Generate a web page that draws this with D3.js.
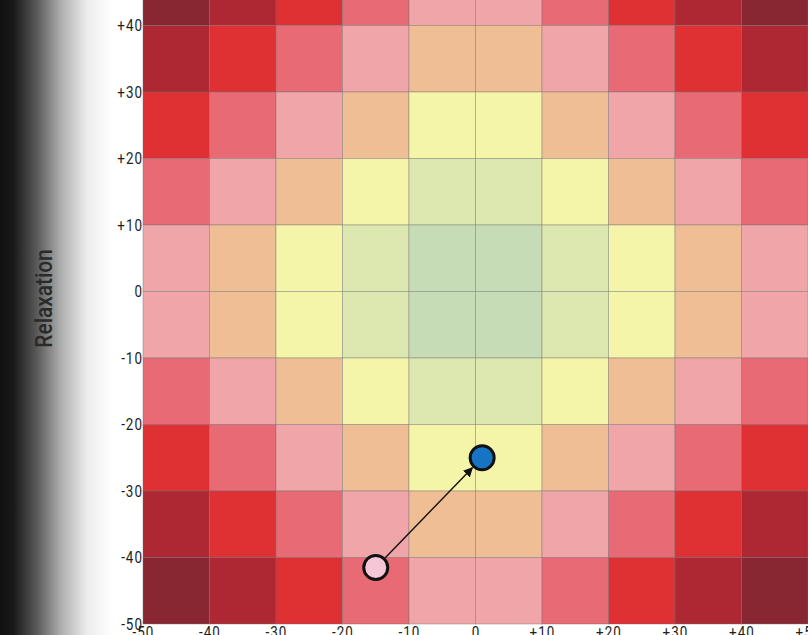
<!DOCTYPE html>
<html>
<head>
<meta charset="utf-8">
<script src="https://cdn.jsdelivr.net/npm/d3@7"></script>
<style>
  html, body { margin: 0; padding: 0; background: #fff; overflow: hidden; }
  text { font-family: Roboto, "Liberation Sans", sans-serif; }
</style>
</head>
<body>
<div id="chart"></div>
<script>
// cell lower-left corners (value units)
const colStarts = [-50, -40, -30, -20, -10, 0, 10, 20, 30, 40];
const rowStarts = [40, 30, 20, 10, 0, -10, -20, -30, -40, -50];

// colour level of each cell, rows top -> bottom, cols left -> right
const levels = [
  [8, 7, 6, 5, 4, 4, 5, 6, 7, 8],
  [7, 6, 5, 4, 3, 3, 4, 5, 6, 7],
  [6, 5, 4, 3, 2, 2, 3, 4, 5, 6],
  [5, 4, 3, 2, 1, 1, 2, 3, 4, 5],
  [4, 3, 2, 1, 0, 0, 1, 2, 3, 4],
  [4, 3, 2, 1, 0, 0, 1, 2, 3, 4],
  [5, 4, 3, 2, 1, 1, 2, 3, 4, 5],
  [6, 5, 4, 3, 2, 2, 3, 4, 5, 6],
  [7, 6, 5, 4, 3, 3, 4, 5, 6, 7],
  [8, 7, 6, 5, 4, 4, 5, 6, 7, 8]
];

const palette = ["#c6dcb6", "#dde8b0", "#f5f5aa", "#efbe94", "#f0a5a8",
                 "#e86a74", "#df3034", "#ad2832", "#882732"];

const xTicks = [-50, -40, -30, -20, -10, 0, 10, 20, 30, 40, 50];
const yTicks = [-50, -40, -30, -20, -10, 0, 10, 20, 30, 40];

const moveFrom = [-15, -41.5];
const moveTo = [1, -25];

const W = 808, H = 635;

const x = d3.scaleLinear().domain([-50, 50]).range([143, 808]);
const y = d3.scaleLinear().domain([-50, 50]).range([624, -41]);

const fmt = d => d > 0 ? "+" + d : String(d);

const svg = d3.select("#chart").append("svg")
  .attr("width", W).attr("height", H);

const defs = svg.append("defs");
const grad = defs.append("linearGradient").attr("id", "shade")
  .attr("x1", 0).attr("x2", 1).attr("y1", 0).attr("y2", 0);
grad.append("stop").attr("offset", "0%").attr("stop-color", "#111");
grad.append("stop").attr("offset", "12%").attr("stop-color", "#191919");
grad.append("stop").attr("offset", "33%").attr("stop-color", "#5a5a5a");
grad.append("stop").attr("offset", "55%").attr("stop-color", "#b0b0b0");
grad.append("stop").attr("offset", "78%").attr("stop-color", "#ededed");
grad.append("stop").attr("offset", "100%").attr("stop-color", "#fff");

defs.append("marker").attr("id", "arrow")
  .attr("viewBox", "0 0 10 10").attr("refX", 9).attr("refY", 5)
  .attr("markerWidth", 7).attr("markerHeight", 7)
  .attr("orient", "auto")
  .append("path").attr("d", "M0,0 L10,5 L0,10 z").attr("fill", "#111");

svg.append("rect").attr("x", 0).attr("y", 0).attr("width", 112).attr("height", H)
  .attr("fill", "url(#shade)");

// cells
const cells = [];
levels.forEach((row, i) => row.forEach((lv, j) => {
  cells.push({ x0: colStarts[j], y0: rowStarts[i], lv });
}));

svg.append("g").selectAll("rect")
  .data(cells)
  .join("rect")
    .attr("x", d => x(d.x0))
    .attr("y", d => y(d.y0 + 10))
    .attr("width", d => x(d.x0 + 10) - x(d.x0))
    .attr("height", d => y(d.y0) - y(d.y0 + 10))
    .attr("fill", d => palette[d.lv])
    .attr("stroke", "rgba(110,110,110,0.4)")
    .attr("stroke-width", 1);

// y axis
const yAxis = svg.append("g")
  .attr("transform", `translate(${x(-50)},0)`)
  .call(d3.axisLeft(y).tickValues(yTicks).tickFormat(fmt).tickSize(0).tickPadding(0));
yAxis.select(".domain").remove();
yAxis.selectAll("text").attr("font-size", 16).attr("fill", "#1e1e1e")
  .attr("transform", "scale(0.84,1)")
  .style("letter-spacing", "1.2px")
  .style("font-family", "Roboto, 'Liberation Sans', sans-serif");

// x axis
const xAxis = svg.append("g")
  .attr("transform", `translate(0,${y(-50)})`)
  .call(d3.axisBottom(x).tickValues(xTicks).tickFormat(fmt).tickSize(0).tickPadding(3));
xAxis.select(".domain").remove();
xAxis.selectAll("text").attr("font-size", 16).attr("fill", "#1e1e1e")
  .attr("transform", "scale(0.84,1)")
  .style("letter-spacing", "1.2px")
  .style("font-family", "Roboto, 'Liberation Sans', sans-serif");

// y label
svg.append("text")
  .attr("transform", `translate(52,${y(0) + 7}) rotate(-90) scale(0.87,1)`)
  .attr("text-anchor", "middle")
  .attr("font-size", 24)
  .attr("font-weight", 500)
  .attr("fill", "#2a2a2a")
  .text("Relaxation");

// arrow between points
const r = 12;
const p0 = [x(moveFrom[0]), y(moveFrom[1])];
const p1 = [x(moveTo[0]), y(moveTo[1])];
const dx = p1[0] - p0[0], dy = p1[1] - p0[1];
const len = Math.hypot(dx, dy);
svg.append("line")
  .attr("x1", p0[0] + dx / len * (r + 1))
  .attr("y1", p0[1] + dy / len * (r + 1))
  .attr("x2", p1[0] - dx / len * (r + 2))
  .attr("y2", p1[1] - dy / len * (r + 2))
  .attr("stroke", "#111").attr("stroke-width", 1.4)
  .attr("marker-end", "url(#arrow)");

svg.append("g").selectAll("circle")
  .data([{ p: moveFrom, c: "#f4c6d6" }, { p: moveTo, c: "#1574c4" }])
  .join("circle")
    .attr("cx", d => x(d.p[0]))
    .attr("cy", d => y(d.p[1]))
    .attr("r", r)
    .attr("fill", d => d.c)
    .attr("stroke", "#111")
    .attr("stroke-width", 3);
</script>
</body>
</html>
